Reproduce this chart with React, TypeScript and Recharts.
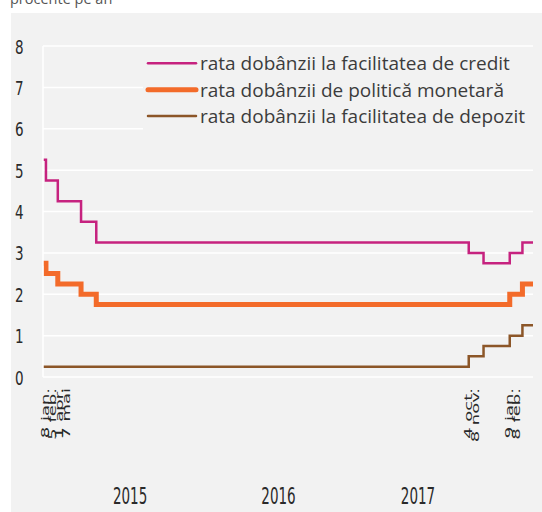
import React from "react";
import { LineChart, Line, XAxis, YAxis, CartesianGrid, Legend } from "recharts";

// change dates (and final point) of the NBR rates
const dates = [
  "2015-01-01", "2015-01-08", "2015-02-05", "2015-04-01", "2015-05-07",
  "2017-10-04", "2017-11-08", "2018-01-09", "2018-02-08", "2018-03-05",
];
const creditRate = [5.25, 4.75, 4.25, 3.75, 3.25, 3.0, 2.75, 3.0, 3.25, 3.25];
const policyRate = [2.75, 2.5, 2.25, 2.0, 1.75, 1.75, 1.75, 2.0, 2.25, 2.25];
const depositRate = [0.25, 0.25, 0.25, 0.25, 0.25, 0.5, 0.75, 1.0, 1.25, 1.25];

const yTicks = [0, 1, 2, 3, 4, 5, 6, 7, 8];

const dateLabelGroups = [
  { at: "2015-01-08", lines: ["8 jan.", "5 feb.", "1 apr.", "7 mai"] },
  { at: "2017-10-04", lines: ["4 oct.", "8 nov."] },
  { at: "2018-01-09", lines: ["9 jan.", "8 feb."] },
];

const yearLabels = ["2015", "2016", "2017"];
const yearLabelDates = ["2015-07-26", "2016-07-11", "2017-06-06"];

const ts = (d: string) => Date.parse(d + "T00:00:00Z");

const data = dates.map((d, i) => ({
  t: ts(d),
  credit: creditRate[i],
  policy: policyRate[i],
  deposit: depositRate[i],
}));

const series = [
  { key: "credit", name: "rata dobânzii la facilitatea de credit", color: "#c6227f", width: 2.5 },
  { key: "policy", name: "rata dobânzii de politică monetară", color: "#f36b2a", width: 5 },
  { key: "deposit", name: "rata dobânzii la facilitatea de depozit", color: "#8c5628", width: 2.5 },
];

const NARROW = '"Liberation Sans Narrow", "DejaVu Sans Condensed", "Liberation Sans", sans-serif';
const TEXT = '"Open Sans", "Noto Sans", sans-serif';

// condensed, tall digits like the original's font
function YTick({ y, payload }: any) {
  return (
    <text
      transform={`translate(12.5, ${y + 7.5}) scale(1, 1.25)`}
      textAnchor="end"
      fontSize={15}
      fill="#2a2a2a"
      fontFamily={NARROW}
    >
      {payload.value}
    </text>
  );
}

function DateTick({ x, y, payload }: any) {
  const group = dateLabelGroups.find((g) => ts(g.at) === payload.value);
  if (!group) return null;
  return (
    <g>
      {group.lines.map((line, i) => (
        <text
          key={line}
          transform={`translate(${x + 3.5 + i * 7}, ${y + 11}) rotate(-90) scale(2.0, 1)`}
          textAnchor="end"
          fontSize={10}
          fill="#2a2a2a"
          fontFamily={NARROW}
        >
          {line}
        </text>
      ))}
    </g>
  );
}

function YearTick({ x, y, payload }: any) {
  const i = yearLabelDates.findIndex((d) => ts(d) === payload.value);
  return (
    <text
      transform={`translate(${x}, ${y + 57}) scale(1, 1.55)`}
      textAnchor="middle"
      fontSize={15}
      fill="#2a2a2a"
      fontFamily={NARROW}
    >
      {yearLabels[i]}
    </text>
  );
}

function LegendBox() {
  return (
    <svg width={396} height={84} style={{ display: "block" }}>
      {series.map((s, i) => {
        const cy = 15.3 + i * 26.4;
        return (
          <g key={s.key}>
            <line
              x1={5}
              x2={53}
              y1={cy}
              y2={cy}
              stroke={s.color}
              strokeWidth={s.width}
              strokeLinecap="round"
            />
            <text x={57} y={cy + 7} fontSize={19} fill="#3c3c3c" fontFamily={TEXT}>
              {s.name}
            </text>
          </g>
        );
      })}
    </svg>
  );
}

export default function App() {
  return (
    <div style={{ position: "absolute", left: 0, top: 0, width: 542, height: 512, background: "#fff", overflow: "hidden" }}>
      <div
        style={{
          position: "absolute",
          left: 10,
          top: -8,
          fontFamily: TEXT,
          fontSize: 14.5,
          lineHeight: "14.5px",
          color: "#555",
          whiteSpace: "nowrap",
        }}
      >
        procente pe an
      </div>
      <div style={{ position: "absolute", left: 11, top: 13, width: 531, height: 499, background: "#f2f2f2" }}>
        <LineChart width={531} height={499} data={data} margin={{ top: 33, right: 9, bottom: 0, left: 0 }}>
          <CartesianGrid vertical={false} stroke="#ffffff" strokeWidth={1.5} />
          <XAxis
            dataKey="t"
            type="number"
            domain={[ts(dates[0]), ts(dates[dates.length - 1])]}
            ticks={dateLabelGroups.map((g) => ts(g.at))}
            tick={<DateTick />}
            axisLine={false}
            tickLine={false}
            tickSize={0}
            tickMargin={0}
            height={70}
            interval={0}
          />
          <XAxis
            xAxisId="years"
            dataKey="t"
            type="number"
            domain={[ts(dates[0]), ts(dates[dates.length - 1])]}
            ticks={yearLabelDates.map(ts)}
            tick={<YearTick />}
            axisLine={false}
            tickLine={false}
            tickSize={0}
            tickMargin={0}
            height={65}
            interval={0}
          />
          <YAxis
            domain={[0, 8]}
            ticks={yTicks}
            tick={<YTick />}
            axisLine={{ stroke: "#ffffff", strokeWidth: 1.5 }}
            tickLine={false}
            width={32}
            interval={0}
          />
          <Legend
            layout="vertical"
            align="center"
            verticalAlign="middle"
            content={() => <LegendBox />}
            wrapperStyle={{ left: 132, top: 35, width: 396, height: 84, background: "#f2f2f2" }}
          />
          {series.map((s) => (
            <Line
              key={s.key}
              type="stepAfter"
              dataKey={s.key}
              name={s.name}
              stroke={s.color}
              strokeWidth={s.width}
              dot={false}
              activeDot={false}
              isAnimationActive={false}
            />
          ))}
        </LineChart>
      </div>
    </div>
  );
}
